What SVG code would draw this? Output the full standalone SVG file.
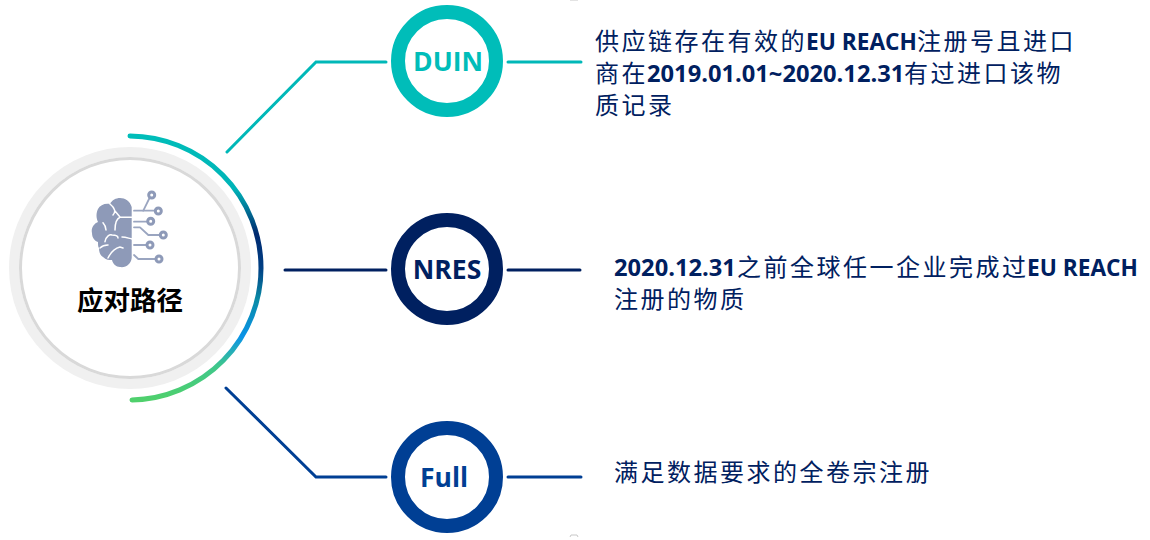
<svg xmlns="http://www.w3.org/2000/svg" width="1150" height="540" viewBox="0 0 1150 540">
<style>
.c{fill:#fff;stroke-width:14}
.l{fill:none;stroke-width:3;stroke-linecap:round;stroke-linejoin:miter}
.t{font-family:"Open Sans","Noto Sans CJK SC",sans-serif;font-weight:700;font-size:26.500px;text-anchor:middle}
.p{font-family:"Noto Sans CJK SC",sans-serif;font-size:24px;fill:#002060;letter-spacing:2.500px}
.d{font-family:"Open Sans","Noto Sans CJK SC",sans-serif;font-size:23.700px;font-weight:700;letter-spacing:0}
.e{font-family:"Open Sans","Noto Sans CJK SC",sans-serif;font-size:22.700px;font-weight:700;letter-spacing:0}
.w{fill:none;stroke:#9aa5c0;stroke-width:1.800;stroke-linecap:round;stroke-linejoin:round}
.n{fill:#fff;stroke:#8e9ab8;stroke-width:3}
.f{fill:none;stroke:#fff;stroke-width:1.500;stroke-linecap:round}
</style>
<defs>
<linearGradient id="arc" gradientUnits="userSpaceOnUse" x1="130" y1="136" x2="130" y2="400">
<stop offset="0" stop-color="#00bdb9"/>
<stop offset=".2" stop-color="#00b4b8"/>
<stop offset=".37" stop-color="#002a70"/>
<stop offset=".5" stop-color="#003f84"/>
<stop offset=".62" stop-color="#0a8ba6"/>
<stop offset=".76" stop-color="#0a93e8"/>
<stop offset=".87" stop-color="#3fc78c"/>
<stop offset="1" stop-color="#4fd06c"/>
</linearGradient>
</defs>
<g id="connectors">
<path class="l" stroke="#00b8b8" d="M227 152 L316 62 H386"/>
<path class="l" stroke="#00b8b8" d="M508 62 H581"/>
<path class="l" stroke="#002060" d="M285 270 H386"/>
<path class="l" stroke="#002060" d="M508 270 H580"/>
<path class="l" stroke="#003f94" d="M226 388 L316 477 H386"/>
<path class="l" stroke="#003f94" d="M508 477 H581"/>
</g>
<g id="hub">
<circle cx="130" cy="268" r="116" fill="#fff" stroke="#f0f0f0" stroke-width="10"/>
<circle cx="130" cy="268" r="109.500" fill="#fff" stroke="#d9d9d9" stroke-width="3"/>
<path d="M130 136 A132 132 0 0 1 261 268 A132 132 0 0 1 132 400" fill="none" stroke="url(#arc)" stroke-width="5" stroke-linecap="round"/>
<g id="brain-icon">
<path fill="#8e9ab8" d="M131.700 207 C130 201 125 198 120 198 C116 198 112 200 110 204 C105 203 100 205 98 209 C96 213 96 218 98 222 C93 224 91 229 92 233 C92 238 95 241 98 242 C98 245 98 247 99 248 C99 252 100 255 103 257 C106 260 109 260 112 260 C113 264 116 267 120 267 C126 268 131 264 131.700 258 Z"/>
<path class="f" d="M110 204 C115 208 116 212 113 215 M103 222.700 C106 226 106 229 106 230 M131.700 217.300 H120 C116 219 115 223 115 230 M115 211 L120 217 M105 241.700 C106 236 110 234 112 235 C117 235 118 237 118 238 M100 248 C103 245 106 245 108 245 M122 237 C125 237 128 238 132 239 M108 258 C111 252 115 248 120 247 L123 248"/>
<path class="w" d="M134 210.700 H143.300 L150 197"/>
<path class="w" d="M143.300 210.700 H154"/>
<path class="w" d="M134 221.700 H146.700"/>
<path class="w" d="M134 227.300 H140 L148.300 235 H159.300"/>
<path class="w" d="M134 245 H146.700"/>
<path class="w" d="M134 255 L138.300 259 H155"/>
<circle class="n" cx="151.700" cy="195" r="3"/>
<circle class="n" cx="158.300" cy="211" r="3"/>
<circle class="n" cx="150.700" cy="221.300" r="3"/>
<circle class="n" cx="163.300" cy="235" r="3"/>
<circle class="n" cx="150" cy="245" r="3"/>
<circle class="n" cx="159" cy="259" r="3"/>
</g>
<text x="130" y="310" font-family="'Noto Sans CJK SC',sans-serif" font-size="26.500" font-weight="700" fill="#000" text-anchor="middle">应对路径</text>
</g>
<g id="duin">
<circle class="c" cx="447" cy="61" r="49" stroke="#00bdb9"/>
<text class="t" x="448" y="71" fill="#00bdb9">DUIN</text>
</g>
<g id="nres">
<circle class="c" cx="447" cy="269" r="49" stroke="#002060"/>
<text class="t" x="447" y="279" fill="#002060">NRES</text>
</g>
<g id="full">
<circle class="c" cx="447" cy="477" r="49" stroke="#003f94"/>
<text class="t" x="444" y="487" fill="#003f94">Full</text>
</g>
<g id="duin-text">
<text class="p"><tspan x="595" y="50">供应链存在有效的</tspan><tspan class="e" x="806" y="50">EU REACH</tspan><tspan x="917" y="50">注册号且进口</tspan><tspan x="595" y="82">商在</tspan><tspan class="d" x="647" y="82">2019.01.01~2020.12.31</tspan><tspan x="904" y="82">有过进口该物</tspan><tspan x="595" y="114">质记录</tspan></text>
</g>
<g id="nres-text">
<text class="p"><tspan class="d" x="614" y="276">2020.12.31</tspan><tspan x="737" y="276">之前全球任一企业完成过</tspan><tspan class="e" x="1027" y="276">EU REACH</tspan><tspan x="614" y="308">注册的物质</tspan></text>
</g>
<g id="full-text">
<text class="p" x="614" y="481">满足数据要求的全卷宗注册</text>
</g>
<path d="M570 0 H578 M570 537 L571 535 H577 L578 537" fill="none" stroke="#c8c8c8" stroke-width="1"/>
</svg>
